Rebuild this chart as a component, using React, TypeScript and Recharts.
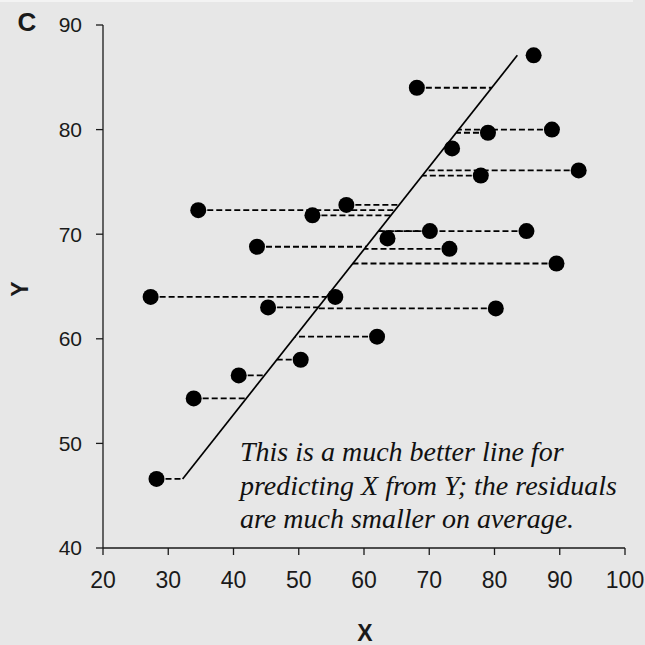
import { ScatterChart, Scatter, XAxis, YAxis, ReferenceLine } from "recharts"

// points
const xValues = [28.2, 33.9, 40.8, 50.3, 62.0, 45.3, 80.2, 27.3, 55.6, 89.5, 43.6, 73.1, 63.6, 70.1, 84.9, 34.6, 52.1, 57.3, 77.9, 92.9, 73.5, 79.0, 88.8, 68.1, 86.0]
const yValues = [46.6, 54.3, 56.5, 58.0, 60.2, 63.0, 62.9, 64.0, 64.0, 67.2, 68.8, 68.6, 69.6, 70.3, 70.3, 72.3, 71.8, 72.8, 75.6, 76.1, 78.2, 79.7, 80.0, 84.0, 87.1]

// the fitted line (X predicted from Y), endpoints
const lineX = [32.2, 83.5]
const lineY = [46.6, 87.1]

const xTicks = [20, 30, 40, 50, 60, 70, 80, 90, 100]
const yTicks = [40, 50, 60, 70, 80, 90]

const note = [
  "This is a much better line for",
  "predicting X from Y; the residuals",
  "are much smaller on average.",
]

const points = xValues.map((x, i) => ({ x, y: yValues[i] }))

// x on the fitted line at a given y
const lineAt = (y: number) =>
  lineX[0] + ((y - lineY[0]) * (lineX[1] - lineX[0])) / (lineY[1] - lineY[0])

// tiny residuals are hidden under the dot in the original
const residuals = points.filter((p) => Math.abs(p.x - lineAt(p.y)) > 3)

const sans = "'Liberation Sans', Arial, Helvetica, sans-serif"
const serif = "'Liberation Serif', 'Times New Roman', serif"
const ink = "#1a1a1a"

const Dot = (props: any) => <circle cx={props.cx} cy={props.cy} r={8} fill="#000" />

export default function App() {
  return (
    <div style={{ position: "absolute", left: 0, top: 0, width: 645, height: 645, background: "#e7e7e7" }}>
      <div style={{ position: "absolute", left: 0, top: 0, width: 633, height: 2, background: "#f3f3f3" }} />
      <ScatterChart width={645} height={645} margin={{ top: 25, right: 20, bottom: 0, left: 0 }}>
        <XAxis
          type="number"
          dataKey="x"
          domain={[20, 100]}
          ticks={xTicks}
          height={97}
          tickSize={7}
          tickMargin={17}
          allowDataOverflow
          stroke={ink}
          strokeWidth={1.3}
          tick={{ fontSize: 23, fill: ink, fontFamily: sans }}
        />
        <YAxis
          type="number"
          dataKey="y"
          domain={[40, 90]}
          ticks={yTicks}
          width={103}
          tickSize={7}
          tickMargin={14}
          allowDataOverflow
          stroke={ink}
          strokeWidth={1.3}
          tick={{ fontSize: 21, fill: ink, fontFamily: sans }}
        />
        {residuals.map((p, i) => (
          <ReferenceLine
            key={i}
            segment={[{ x: p.x, y: p.y }, { x: lineAt(p.y), y: p.y }]}
            stroke="#000"
            strokeWidth={1.8}
            strokeDasharray="6 3"
            ifOverflow="visible"
          />
        ))}
        <ReferenceLine
          segment={[{ x: lineX[0], y: lineY[0] }, { x: lineX[1], y: lineY[1] }]}
          stroke="#000"
          strokeWidth={1.7}
          ifOverflow="visible"
        />
        <Scatter data={points} shape={Dot} isAnimationActive={false} />
      </ScatterChart>
      <svg width={645} height={645} style={{ position: "absolute", left: 0, top: 0, pointerEvents: "none" }}>
        <text x={27} y={31} textAnchor="middle" fontFamily={sans} fontWeight="bold" fontSize={26} fill={ink}>C</text>
        <text x={365} y={641} textAnchor="middle" fontFamily={sans} fontWeight="bold" fontSize={23} fill={ink}>X</text>
        <text
          x={20}
          y={289}
          textAnchor="middle"
          dominantBaseline="central"
          transform="rotate(-90 20 289)"
          fontFamily={sans}
          fontWeight="bold"
          fontSize={23}
          fill={ink}
        >
          Y
        </text>
        {note.map((line, i) => (
          <text key={i} x={240} y={461 + i * 33.5} fontFamily={serif} fontStyle="italic" fontSize={28} fill="#111">
            {line}
          </text>
        ))}
      </svg>
    </div>
  )
}
